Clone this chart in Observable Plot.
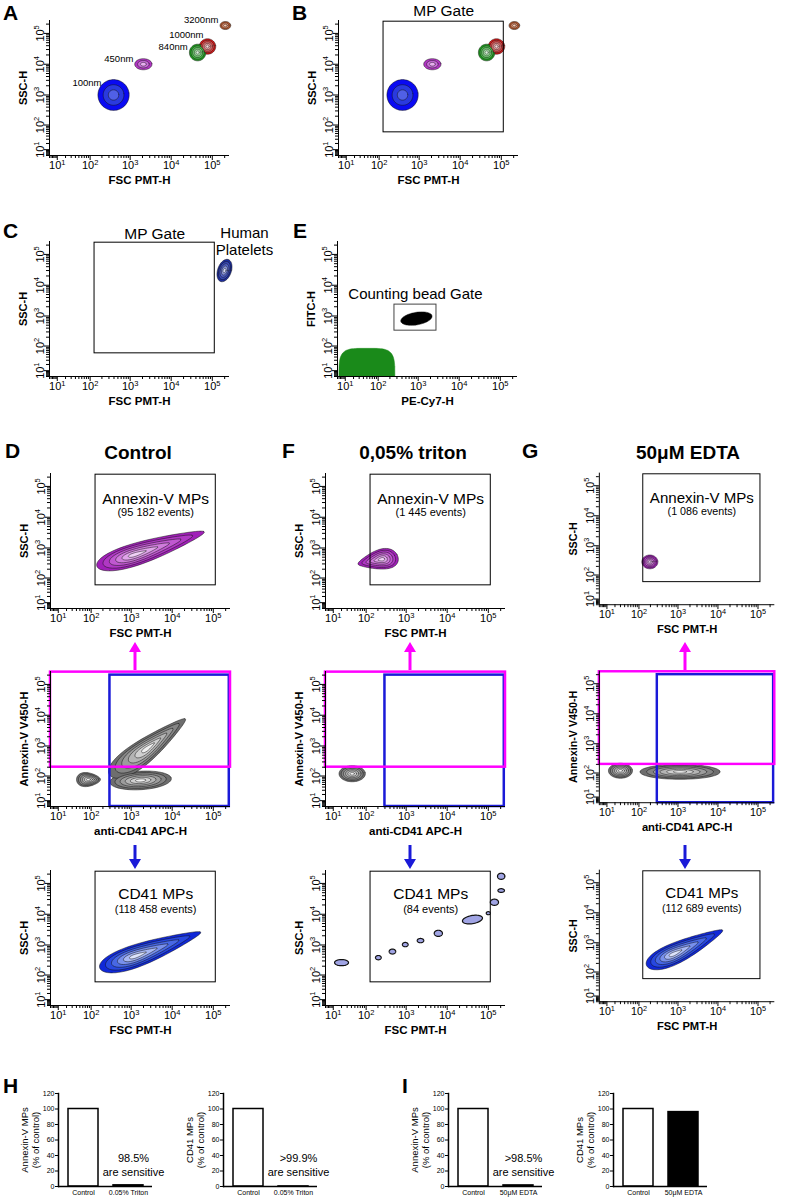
<!DOCTYPE html>
<html>
<head>
<meta charset="utf-8">
<script src="https://cdn.jsdelivr.net/npm/d3@7"></script>
<script src="https://cdn.jsdelivr.net/npm/@observablehq/plot@0.6"></script>
<style>
  html,body{margin:0;padding:0;background:#fff;}
  #fig{position:relative;width:786px;height:1200px;overflow:hidden;font-family:"Liberation Sans",Arial,Helvetica,sans-serif;color:#000;}
  .p{position:absolute;}
  .p svg{overflow:visible;display:block;}
  .t{position:absolute;white-space:nowrap;line-height:1;}
</style>
</head>
<body>
<div id="fig"></div>
<script>
// ================= DATA =================
// Axis ticks (cytometer log-like display)
const majorTicks = [10, 100, 1000, 10000, 100000];
const majorTickExp = ["1", "2", "3", "4", "5"];

// A/B: calibration beads (median FSC-H, SSC-H and spread in decades)
const beadNames = ["100nm", "450nm", "1000nm", "840nm", "3200nm"];
const beadFSC = [390, 2100, 76500, 44000, 208000];
const beadSSC = [1000, 10000, 37600, 24000, 180000];
const beadSpreadFSC = [0.38, 0.21, 0.2, 0.2, 0.13];
const beadSpreadSSC = [0.5, 0.18, 0.25, 0.27, 0.13];

// Gates
const mpGate = {x1: 130, x2: 115000, y1: 55, y2: 240000};
const beadGate = {x1: 260, x2: 2800, y1: 330, y2: 2350};
const annexinGate = {x1: 4, x2: 262144, y1: 200, y2: 250000};
const cd41Gate = {x1: 300, x2: 245000, y1: 4, y2: 200000};

// C: human platelets
const plateletPop = [{x: 198000, y: 30000, sx: 0.17, sy: 0.37, tilt: -12}];
// E: unstained events and counting beads (PE-Cy7-H vs FITC-H)
const unstainedPop = [{x: 50, y: 2, sx: 0.68, sy: 1.0, sq: 0.45}];
const countingBeadPop = [{x: 905, y: 822, sx: 0.39, sy: 0.2, tilt: 15}];

// D/F/G columns
const conditions = ["Control", "0,05% triton", "50\u03BCM EDTA"];
const annexinEvents = [95182, 1445, 1086];
const cd41Events = [118458, 84, 112689];
const annexinFSCpops = [
  [{x: 3000, y: 900, sx: 1.42, sy: 0.32, tilt: 23.6, taper: 0.45, skew: -0.3}],
  [{x: 200, y: 400, sx: 0.5, sy: 0.3, tilt: 15, taper: -0.5, skew: 0.2}],
  [{x: 193, y: 285, sx: 0.2, sy: 0.23}]
];
const annexinCD41pops = [
  [{x: 85, y: 75, sx: 0.29, sy: 0.22, taper: 0.3}, {x: 1700, y: 70, sx: 0.75, sy: 0.3, tilt: 5},
   {x: 2600, y: 880, sx: 1.3, sy: 0.32, tilt: 46, taper: 0.5}],
  [{x: 42, y: 120, sx: 0.32, sy: 0.26}],
  [{x: 30, y: 120, sx: 0.3, sy: 0.25}, {x: 1125, y: 110, sx: 1.0, sy: 0.25}]
];
const cd41FSCpops = [
  [{x: 2960, y: 655, sx: 1.36, sy: 0.32, tilt: 26, taper: 0.5, skew: -0.3}],
  [{x: 20, y: 263, sx: 0.17, sy: 0.1}, {x: 205, y: 385, sx: 0.07, sy: 0.07}, {x: 460, y: 610, sx: 0.08, sy: 0.08},
   {x: 950, y: 1030, sx: 0.07, sy: 0.07}, {x: 2240, y: 1390, sx: 0.08, sy: 0.07}, {x: 6090, y: 2400, sx: 0.1, sy: 0.1},
   {x: 41200, y: 6730, sx: 0.25, sy: 0.13, tilt: 15}, {x: 100000, y: 10800, sx: 0.05, sy: 0.05},
   {x: 141000, y: 24500, sx: 0.1, sy: 0.1}, {x: 206000, y: 58700, sx: 0.08, sy: 0.06}, {x: 206000, y: 170000, sx: 0.09, sy: 0.1}],
  [{x: 1500, y: 640, sx: 1.12, sy: 0.3, tilt: 33, taper: 0.5, skew: -0.3}]
];

// H / I bar charts
const hCats = ["Control", "0.05% Triton"];
const hAnnexin = [100, 1.5];
const hCD41 = [100, 0.1];
const iCats = ["Control", "50\u03BCM EDTA"];
const iAnnexin = [100, 1.4];
const iCD41 = [100, 96];

// ================= HELPERS =================
const C = 7, LO = 4, HI = 262144;
const toF = v => Math.sign(v) * Math.log1p(Math.abs(v) / C);
const fromF = f => Math.sign(f) * C * Math.expm1(Math.abs(f));
const minorTicks = [];
for (let e = 0; e <= 5; e++) for (let m = 2; m <= 9; m++) {
  const v = m * 10 ** e; if (v >= LO && v <= HI) minorTicks.push(v);
}
const PAL = {
  blue: ["#0a0af2", "#2a3ade", "#5060e6"],
  purple: ["#b036c2", "#c86ed8", "#e8b0f0"],
  red: ["#d81818", "#e04848", "#e87878", "#f0a8a8", "#f8d8d8"],
  green: ["#1e9e1e", "#48b848", "#78d078", "#a8e4a8", "#d8f4d8"],
  orange: ["#b85a30", "#e09070", "#f4c8b0"],
  platelet: ["#1c2c9c", "#3848b4", "#5464c8", "#8c98dc", "#d0d8f4"],
  magenta: ["#a020b8", "#b038c4", "#c058d0", "#d07cdc", "#e0a4ea", "#f0d0f6"],
  gray: ["#6e6e6e", "#858585", "#9c9c9c", "#b4b4b4", "#d0d0d0", "#f0f0f0"],
  cd41: ["#1028d8", "#2848e0", "#4868e4", "#7890ec", "#a8b8f4", "#dce4fc"],
  lightblue: ["#a0a4e4"],
  beadGreen: ["#1a8a1a"],
  black: ["#000000"]
};
// Build nested contour polygons for populations (spreads in decades)
function contours(pops, palNames) {
  const pts = [];
  const nMax = Math.max(...pops.map((p, i) => PAL[palNames[i]].length));
  const pw = (v, e) => Math.sign(v) * Math.abs(v) ** e;
  for (let li = 0; li < nMax; li++) {
    pops.forEach((p, bi) => {
      const cols = PAL[palNames[bi]], n = cols.length;
      if (li >= n) return;
      const s = (n - li) / n;
      const th = (p.tilt || 0) * Math.PI / 180, N = 48, e = p.sq || 1;
      for (let k = 0; k < N; k++) {
        const t = 2 * Math.PI * k / N, ct = pw(Math.cos(t), e), st = pw(Math.sin(t), e);
        const u = p.sx * s * ct + (p.skew || 0) * p.sx * (1 - s);
        const w = p.sy * s * st * (1 - (p.taper || 0) * ct);
        const dx = u * Math.cos(th) - w * Math.sin(th);
        const dy = u * Math.sin(th) + w * Math.cos(th);
        pts.push({key: bi + "-" + li, fill: cols[li],
          x: fromF(toF(p.x) + dx * Math.LN10), y: fromF(toF(p.y) + dy * Math.LN10)});
      }
    });
  }
  return pts;
}
function contourMark(pops, palNames, opts = {}) {
  return Plot.line(contours(pops, palNames), {x: "x", y: "y", z: "key", fill: "fill",
    stroke: "#111", strokeWidth: 0.5, curve: "catmull-rom-closed", ...opts});
}
const gateCx = g => fromF((toF(g.x1) + toF(g.x2)) / 2);
const fmtEvents = n => "(" + d3.format(",")(n).replace(/,/g, " ") + " events)";

const fig = document.getElementById("fig");
function place(el, left, top) {
  const d = document.createElement("div");
  d.className = "p"; d.style.left = left + "px"; d.style.top = top + "px";
  d.appendChild(el); fig.appendChild(d);
}
function text(str, x, baseline, size, {bold = false, anchor = "start"} = {}) {
  const d = document.createElement("div");
  d.className = "t"; d.textContent = str;
  d.style.fontSize = size + "px"; d.style.fontWeight = bold ? "bold" : "normal";
  d.style.top = (baseline - 0.86 * size) + "px";
  d.style.left = x + "px";
  if (anchor === "middle") d.style.transform = "translateX(-50%)";
  fig.appendChild(d);
}
// render "10" + exponent as a raised superscript
function superscriptTicks(svg) {
  svg.querySelectorAll('g[aria-label$="tick label"] text').forEach(t => {
    const m = /^10\^(\d)$/.exec(t.textContent);
    if (!m) return;
    t.textContent = "10";
    const ts = document.createElementNS("http://www.w3.org/2000/svg", "tspan");
    ts.setAttribute("dy", "-4.5"); ts.setAttribute("font-size", "7.5"); ts.textContent = m[1];
    t.appendChild(ts);
  });
}

const FW = 180, FH = 135, ML = 45, MT = 14, MR = 12, MB = 40;
const tickFmt = d => "10^" + majorTickExp[majorTicks.indexOf(d)];
function facs({X0, Y0, xLabel, yLabel, marks}) {
  const svg = Plot.plot({
    width: ML + FW + MR, height: MT + FH + MB,
    marginLeft: ML, marginTop: MT, marginRight: MR, marginBottom: MB,
    x: {type: "symlog", constant: C, domain: [LO, HI], label: null},
    y: {type: "symlog", constant: C, domain: [LO, HI], label: null},
    color: {type: "identity"},
    style: {fontFamily: "Liberation Sans, Arial, sans-serif", fontSize: "11px", color: "#000", background: "transparent", overflow: "visible"},
    marks: [
      ...marks,
      Plot.ruleX([LO], {stroke: "#000", strokeWidth: 1}),
      Plot.ruleY([LO], {stroke: "#000", strokeWidth: 1}),
      Plot.axisX(majorTicks, {tickSize: 5, tickPadding: 1, tickFormat: tickFmt, label: null, fontSize: 11}),
      Plot.axisX(minorTicks, {tickSize: 3, tickFormat: () => "", label: null}),
      Plot.axisY(majorTicks, {tickSize: 5, tickPadding: 1, tickRotate: -90, tickFormat: tickFmt, label: null, fontSize: 11}),
      Plot.axisY(minorTicks, {tickSize: 3, tickFormat: () => "", label: null}),
      Plot.text([xLabel], {frameAnchor: "bottom", dy: 25, lineAnchor: "middle", textAnchor: "middle", fontWeight: "bold", fontSize: 11.5, text: d => d}),
      Plot.text([yLabel], {frameAnchor: "left", dx: -26, rotate: -90, textAnchor: "middle", lineAnchor: "middle", fontWeight: "bold", fontSize: 11, text: d => d})
    ]
  });
  superscriptTicks(svg);
  place(svg, X0 - ML, Y0 - MT);
}
function gateRect(g, stroke = "#000", sw = 1) {
  return Plot.rect([g], {x1: "x1", x2: "x2", y1: "y1", y2: "y2", fill: "none", stroke, strokeWidth: sw});
}

// ================= PANELS A & B =================
const beadPops = beadNames.map((n, i) => ({name: n, x: beadFSC[i], y: beadSSC[i], sx: beadSpreadFSC[i], sy: beadSpreadSSC[i]}));
const beadPal = ["blue", "purple", "red", "green", "orange"];
const beadLabelOffset = {"100nm": [-12, -12], "450nm": [-10, -5], "1000nm": [-4, -11.5], "840nm": [-10, -6], "3200nm": [-7, -6]};
facs({X0: 49, Y0: 20, xLabel: "FSC PMT-H", yLabel: "SSC-H", marks: [
  contourMark(beadPops, beadPal),
  ...beadPops.map(p => Plot.text([p], {x: "x", y: "y", text: "name", textAnchor: "end", fontSize: 9.5,
    dx: beadLabelOffset[p.name][0], dy: beadLabelOffset[p.name][1]}))
]});
facs({X0: 338, Y0: 20, xLabel: "FSC PMT-H", yLabel: "SSC-H", marks: [
  contourMark(beadPops, beadPal),
  gateRect(mpGate),
  Plot.text([mpGate], {x: gateCx, y: "y2", text: () => "MP Gate", fontSize: 15.5, dy: -11})
]});

// ================= PANEL C =================
facs({X0: 49, Y0: 241, xLabel: "FSC PMT-H", yLabel: "SSC-H", marks: [
  gateRect(mpGate),
  Plot.text([mpGate], {x: gateCx, y: "y2", text: () => "MP Gate", fontSize: 15.5, dy: -9}),
  contourMark(plateletPop, ["platelet"]),
  Plot.text(plateletPop, {x: "x", y: "y", text: () => "Human", fontSize: 15, dx: 20, dy: -37}),
  Plot.text(plateletPop, {x: "x", y: "y", text: () => "Platelets", fontSize: 15, dx: 20, dy: -20})
]});

// ================= PANEL E =================
facs({X0: 337, Y0: 241, xLabel: "PE-Cy7-H", yLabel: "FITC-H", marks: [
  contourMark(unstainedPop, ["beadGreen"], {stroke: "#1a8a1a", clip: true}),
  contourMark(countingBeadPop, ["black"]),
  gateRect(beadGate, "#444", 1),
  Plot.text([beadGate], {x: gateCx, y: "y2", text: () => "Counting bead Gate", fontSize: 15, dy: -10})
]});

// ================= D / F / G =================
const colX = [50, 325, 600];
conditions.forEach((cond, i) => {
  const X0 = colX[i];
  facs({X0, Y0: 473, xLabel: "FSC PMT-H", yLabel: "SSC-H", marks: [
    contourMark(annexinFSCpops[i], annexinFSCpops[i].map(() => "magenta")),
    gateRect(mpGate),
    Plot.text([mpGate], {x: gateCx, y: "y2", text: () => "Annexin-V MPs", fontSize: 15.5, dy: 24}),
    Plot.text([mpGate], {x: gateCx, y: "y2", text: () => fmtEvents(annexinEvents[i]), fontSize: 11, dy: 38})
  ]});
  facs({X0, Y0: 671, xLabel: "anti-CD41 APC-H", yLabel: "Annexin-V V450-H", marks: [
    contourMark(annexinCD41pops[i], annexinCD41pops[i].map(() => "gray")),
    gateRect(cd41Gate, "#1a1ad8", 2.5),
    gateRect(annexinGate, "#ff00ff", 2.5)
  ]});
  const bp = cd41FSCpops[i];
  facs({X0, Y0: 870, xLabel: "FSC PMT-H", yLabel: "SSC-H", marks: [
    gateRect(mpGate),
    Plot.text([mpGate], {x: gateCx, y: "y2", text: () => "CD41 MPs", fontSize: 15.5, dy: 22}),
    Plot.text([mpGate], {x: gateCx, y: "y2", text: () => fmtEvents(cd41Events[i]), fontSize: 11, dy: 38}),
    contourMark(bp, bp.map(() => i === 1 ? "lightblue" : "cd41"), i === 1 ? {strokeWidth: 1.2, curve: "linear-closed"} : {})
  ]});
  text(cond, X0 + 88, 459, 19, {bold: true, anchor: "middle"});
});

// ================= H / I bar charts =================
function bars({X0, Y0, cats, vals, fills, ylab, note}) {
  const bml = 46, bmt = 8, bmr = 6, bmb = 16, BW = 94, BH = 93;
  const data = cats.map((c, i) => ({c, v: vals[i], f: fills[i]}));
  const marks = [
    Plot.barY(data, {x: "c", y: "v", fill: "f", stroke: "#000", strokeWidth: 1.5}),
    Plot.ruleY([0], {stroke: "#000", strokeWidth: 1.5}),
    Plot.frame({anchor: "left", stroke: "#000", strokeWidth: 1.5}),
    Plot.axisY({ticks: [0, 20, 40, 60, 80, 100, 120], tickSize: 3, tickPadding: 1, fontSize: 7, label: null}),
    Plot.axisX({tickSize: 0, tickPadding: 4, fontSize: 7, label: null}),
    Plot.text([ylab[0]], {frameAnchor: "left", dx: -34, rotate: -90, textAnchor: "middle", lineAnchor: "middle", fontSize: 9.5, text: d => d}),
    Plot.text([ylab[1]], {frameAnchor: "left", dx: -23, rotate: -90, textAnchor: "middle", lineAnchor: "middle", fontSize: 9.5, text: d => d})
  ];
  if (note) {
    marks.push(Plot.text([note[0]], {x: () => cats[1], frameAnchor: "bottom", lineAnchor: "middle", dy: -28, dx: 5, fontSize: 11, text: d => d}));
    marks.push(Plot.text([note[1]], {x: () => cats[1], frameAnchor: "bottom", lineAnchor: "middle", dy: -14, dx: 5, fontSize: 11, text: d => d}));
  }
  const svg = Plot.plot({
    width: bml + BW + bmr, height: bmt + BH + bmb,
    marginLeft: bml, marginTop: bmt, marginRight: bmr, marginBottom: bmb,
    x: {domain: cats, paddingInner: 0.34, paddingOuter: 0.2, label: null},
    y: {domain: [0, 120], label: null},
    color: {type: "identity"},
    style: {fontFamily: "Liberation Sans, Arial, sans-serif", fontSize: "7px", color: "#000", background: "transparent", overflow: "visible"},
    marks
  });
  place(svg, X0 - bml, Y0 - bmt);
}
bars({X0: 58, Y0: 1093, cats: hCats, vals: hAnnexin, fills: ["#fff", "#fff"], ylab: ["Annexin-V MPs", "(% of control)"], note: ["98.5%", "are sensitive"]});
bars({X0: 223, Y0: 1093, cats: hCats, vals: hCD41, fills: ["#fff", "#fff"], ylab: ["CD41 MPs", "(% of control)"], note: [">99.9%", "are sensitive"]});
bars({X0: 448, Y0: 1093, cats: iCats, vals: iAnnexin, fills: ["#fff", "#fff"], ylab: ["Annexin-V MPs", "(% of control)"], note: [">98.5%", "are sensitive"]});
bars({X0: 613, Y0: 1093, cats: iCats, vals: iCD41, fills: ["#fff", "#000"], ylab: ["CD41 MPs", "(% of control)"]});

// ================= panel letters =================
[["A", 3, 20], ["B", 292, 20], ["C", 3, 238], ["E", 293, 238], ["D", 5, 458], ["F", 282, 458], ["G", 522, 458], ["H", 3, 1093], ["I", 402, 1093]]
  .forEach(([l, x, b]) => text(l, x, b, 21, {bold: true}));

// ================= connector arrows =================
const ov = d3.create("svg").attr("width", 786).attr("height", 1200)
  .style("position", "absolute").style("left", 0).style("top", 0).style("pointer-events", "none");
function arrow(x, yFrom, yTo, color) {
  const dir = Math.sign(yTo - yFrom);
  ov.append("line").attr("x1", x).attr("x2", x).attr("y1", yFrom).attr("y2", yTo - dir * 8)
    .attr("stroke", color).attr("stroke-width", 3);
  ov.append("path").attr("d", `M${x - 6},${yTo - dir * 10}L${x + 6},${yTo - dir * 10}L${x},${yTo}Z`).attr("fill", color);
}
colX.forEach(X0 => {
  arrow(X0 + 85, 670, 642, "#ff00ff");
  arrow(X0 + 85, 845, 869, "#1a1ad8");
});
fig.appendChild(ov.node());
</script>
</body>
</html>
